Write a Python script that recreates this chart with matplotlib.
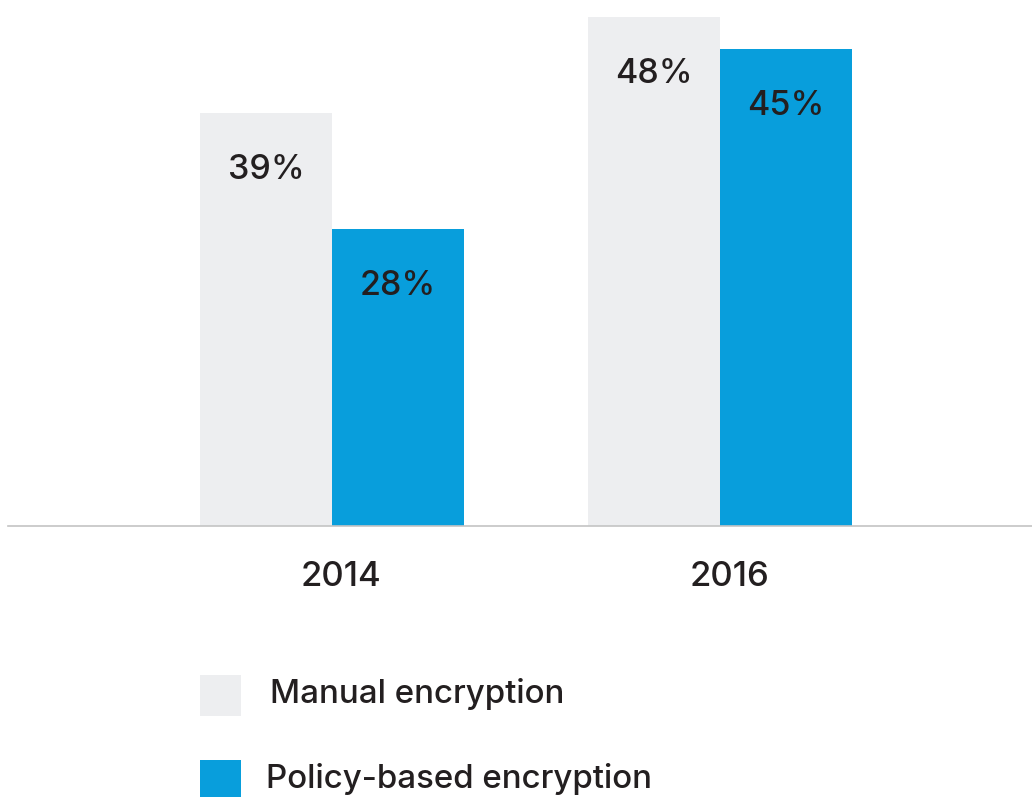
import matplotlib.pyplot as plt
from matplotlib.patches import Rectangle
import numpy as np

# data
years = ['2014', '2016']
manual = [39, 48]
policy = [28, 45]
series_names = ['Manual encryption', 'Policy-based encryption']

c_manual = '#EDEEF0'
c_policy = '#089EDC'
c_text = '#231F20'

plt.rcParams['font.family'] = ['Inter', 'DejaVu Sans']

W, H = 1032, 797
fig = plt.figure(figsize=(W / 100, H / 100), dpi=100)

# axes: baseline at y=526 px, spans x 8..1032
ax = fig.add_axes([8 / W, 1 - 526 / H, 1 - 8 / W, 526 / H])
px_per_unit = 388.0
ax.set_xlim((8 - 332) / px_per_unit, (1032 - 332) / px_per_unit)
ax.set_ylim(0, 526 / 10.6)

x = np.arange(len(years))
width = 132 / px_per_unit
b1 = ax.bar(x - width / 2, manual, width, color=c_manual, linewidth=0)
b2 = ax.bar(x + width / 2, policy, width, color=c_policy, linewidth=0)

# value labels inside the bars, ~57 px below top
for bars, vals in [(b1, manual), (b2, policy)]:
    for rect, v in zip(bars, vals):
        ax.annotate(f'{v}%', (rect.get_x() + rect.get_width() / 2, v),
                    xytext=(0, -57 * 0.72), textcoords='offset points',
                    ha='center', va='center', fontsize=24.5, color=c_text,
                    fontweight='medium')

for s in ['top', 'right', 'left']:
    ax.spines[s].set_visible(False)
ax.spines['bottom'].set_color('#C4C4C4')
ax.spines['bottom'].set_linewidth(1.2)
ax.set_yticks([])
ax.set_xticks(x + 9 / px_per_unit)
ax.set_xticklabels(years, fontsize=25, color=c_text, fontweight='medium')
ax.tick_params(axis='x', length=0, pad=25)

# legend drawn by hand
legend_rows = [(c_manual, series_names[0], 675, 270), (c_policy, series_names[1], 760, 266)]
for color, label, top, tx in legend_rows:
    fig.add_artist(Rectangle((200 / W, 1 - (top + 41) / H), 41 / W, 41 / H,
                             transform=fig.transFigure, color=color, linewidth=0))
    fig.text(tx / W, 1 - (top + 19) / H, label, fontsize=23.8, color=c_text,
             fontweight='medium', ha='left', va='center')

fig.savefig('out.png', dpi=100)
